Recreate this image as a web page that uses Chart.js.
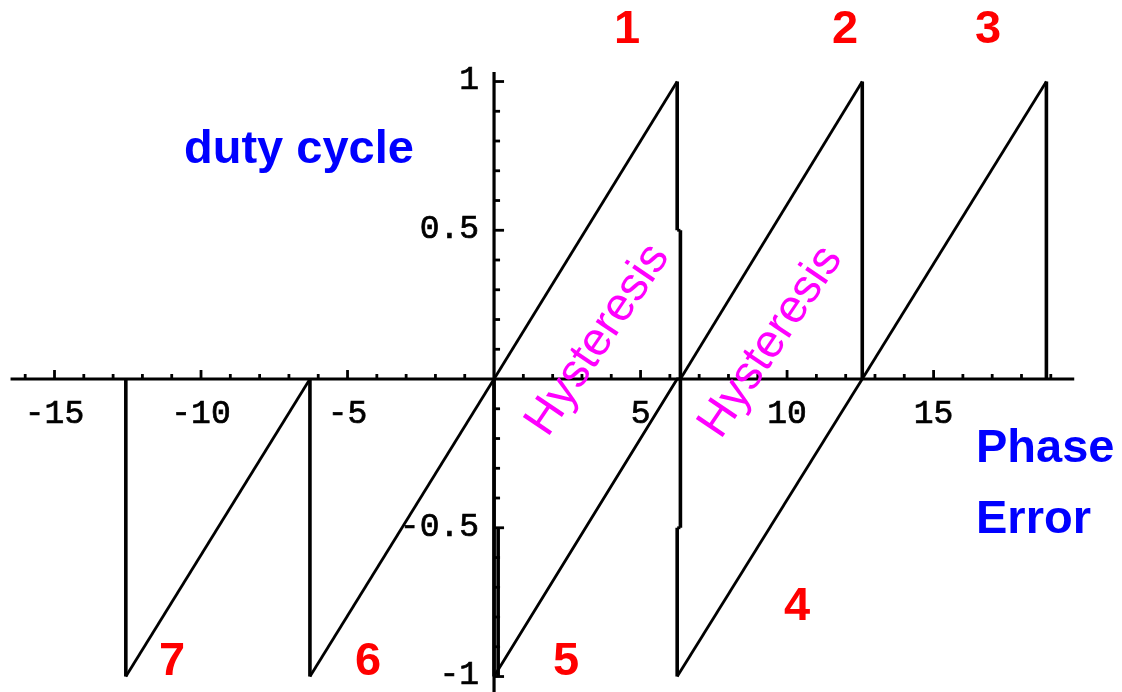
<!DOCTYPE html>
<html>
<head>
<meta charset="utf-8">
<script src="https://cdn.jsdelivr.net/npm/chart.js@4.4.1/dist/chart.umd.min.js"></script>
<style>
  html, body { margin: 0; padding: 0; background: #fff; }
  #wrap { width: 1122px; height: 692px; position: relative; }
</style>
</head>
<body>
<div id="wrap"><canvas id="c"></canvas></div>
<script>
// ---- data ----
const upperX = [0, 6.25, 6.25, 6.36, 6.36, 12.566, 12.566, 18.85, 18.85];
const upperY = [0, 1, 0.5, 0.5, 0, 1, 0, 1, 0];
const lowerX = [-12.566, -12.566, -6.283, -6.283, 0, 0, 6.25, 6.36, 6.36, 6.25, 6.25, 12.566];
const lowerY = [0, -1, 0, -1, 0, -1, 0, 0, -0.5, -0.5, -1, 0];
const edgeX = [0.14, 0.14];
const edgeY = [-0.5, -1];

const xTickLabels = ["-15", "-10", "-5", "5", "10", "15"];
const xTickValues = [-15, -10, -5, 5, 10, 15];
const yTickLabels = ["-1", "-0.5", "0.5", "1"];
const yTickValues = [-1, -0.5, 0.5, 1];

const xAxisRange = [-16.5, 19.8];
const yAxisRange = [-1.06, 1.032];

const toPts = (xs, ys) => xs.map((x, i) => ({ x: x, y: ys[i] }));

// ---- custom axes drawn through the chart scales ----
const axesPlugin = {
  id: 'mathAxes',
  beforeDatasetsDraw(chart) {
    const ctx = chart.ctx;
    const xs = chart.scales.x, ys = chart.scales.y;
    const x0 = xs.getPixelForValue(0), y0 = ys.getPixelForValue(0);
    ctx.save();
    ctx.strokeStyle = '#000';
    ctx.lineWidth = 3.2;
    ctx.lineCap = 'butt';
    ctx.beginPath();
    ctx.moveTo(xs.getPixelForValue(xAxisRange[0]), y0);
    ctx.lineTo(xs.getPixelForValue(xAxisRange[1]), y0);
    ctx.stroke();
    ctx.beginPath();
    ctx.moveTo(x0, ys.getPixelForValue(yAxisRange[1]));
    ctx.lineTo(x0, ys.getPixelForValue(yAxisRange[0]));
    ctx.stroke();
    ctx.lineWidth = 2.8;
    for (let v = -16; v <= 19; v++) {
      if (v === 0) continue;
      const px = xs.getPixelForValue(v);
      const len = (v % 5 === 0) ? 9 : 5;
      ctx.beginPath();
      ctx.moveTo(px, y0);
      ctx.lineTo(px, y0 - len);
      ctx.stroke();
    }
    for (let k = -10; k <= 10; k++) {
      if (k === 0) continue;
      const py = ys.getPixelForValue(k / 10);
      const len = (k % 5 === 0) ? 10 : 6;
      ctx.beginPath();
      ctx.moveTo(x0, py);
      ctx.lineTo(x0 + len, py);
      ctx.stroke();
    }
    ctx.fillStyle = '#000';
    ctx.strokeStyle = '#000';
    ctx.lineWidth = 0.7;
    ctx.font = '33px "Liberation Mono", "DejaVu Sans Mono", monospace';
    ctx.textAlign = 'center';
    ctx.textBaseline = 'middle';
    xTickValues.forEach((v, i) => {
      const px = xs.getPixelForValue(v);
      ctx.fillText(xTickLabels[i], px, y0 + 35);
      ctx.strokeText(xTickLabels[i], px, y0 + 35);
    });
    ctx.textAlign = 'right';
    yTickValues.forEach((v, i) => {
      const py = ys.getPixelForValue(v) - 1;
      ctx.fillText(yTickLabels[i], x0 - 15, py);
      ctx.strokeText(yTickLabels[i], x0 - 15, py);
    });
    ctx.restore();
  },
  afterDatasetsDraw(chart) {
    const ctx = chart.ctx;
    ctx.save();
    ctx.textBaseline = 'alphabetic';
    ctx.textAlign = 'left';
    ctx.font = 'bold 47px "Liberation Sans", Arial, sans-serif';
    ctx.fillStyle = '#0000ff';
    ctx.fillText('duty cycle', 184, 163);
    ctx.fillText('Phase', 976, 462);
    ctx.fillText('Error', 976, 533);
    ctx.fillStyle = '#ff0000';
    ctx.textAlign = 'center';
    [['1', 627, 43], ['2', 845, 43], ['3', 988, 43], ['4', 797, 620],
     ['5', 566, 675], ['6', 368, 675], ['7', 172, 675]].forEach(t => ctx.fillText(t[0], t[1], t[2]));
    ctx.fillStyle = '#ff00ff';
    ctx.font = '47px "Liberation Sans", Arial, sans-serif';
    ctx.textBaseline = 'middle';
    [[598, 340], [771, 342]].forEach(p => {
      ctx.save();
      ctx.translate(p[0], p[1]);
      ctx.rotate(-56 * Math.PI / 180);
      ctx.fillText('Hysteresis', 0, 0);
      ctx.restore();
    });
    ctx.restore();
  }
};

const isVertical = c => Math.abs(c.p0.parsed.x - c.p1.parsed.x) < 1e-9;
const lineStyle = {
  showLine: true, borderColor: '#000', pointRadius: 0, fill: false, tension: 0,
  borderJoinStyle: 'miter', borderWidth: 2.8,
  segment: { borderWidth: c => isVertical(c) ? 3.6 : 2.8 }
};

new Chart(document.getElementById('c'), {
  type: 'scatter',
  data: {
    datasets: [
      Object.assign({ label: 'upper', data: toPts(upperX, upperY) }, lineStyle),
      Object.assign({ label: 'lower', data: toPts(lowerX, lowerY) }, lineStyle),
      Object.assign({ label: 'edge', data: toPts(edgeX, edgeY) }, lineStyle)
    ]
  },
  options: {
    responsive: true,
    maintainAspectRatio: false,
    animation: false,
    layout: { padding: 0 },
    plugins: { legend: { display: false }, tooltip: { enabled: false } },
    scales: {
      x: { type: 'linear', min: -16.86, max: 21.43, display: false },
      y: { type: 'linear', min: -1.052, max: 1.274, display: false }
    }
  },
  plugins: [axesPlugin]
});
</script>
</body>
</html>
